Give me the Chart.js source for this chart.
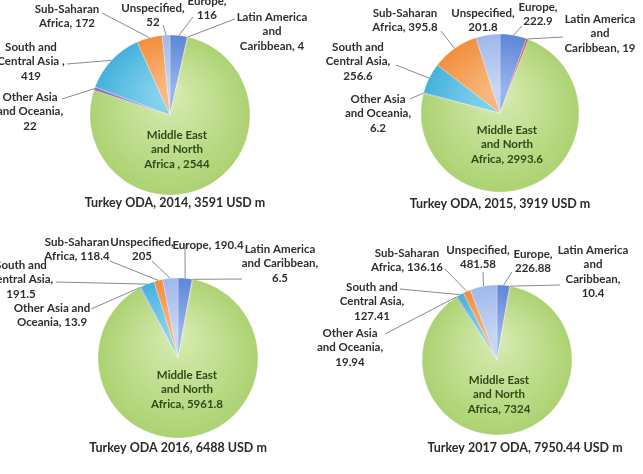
<!DOCTYPE html>
<html>
<head>
<meta charset="utf-8">
<script src="https://cdn.jsdelivr.net/npm/chart.js@4.4.1/dist/chart.umd.min.js"></script>
<style>
  body { margin: 0; background: #fff; }
  #wrap { position: relative; width: 643px; height: 474px; overflow: hidden; }
  #wrap canvas { position: absolute; left: 0; top: 0; }
</style>
</head>
<body>
<div id="wrap">
  <canvas id="c2014" width="643" height="474"></canvas>
  <canvas id="c2015" width="643" height="474"></canvas>
  <canvas id="c2016" width="643" height="474"></canvas>
  <canvas id="c2017" width="643" height="474"></canvas>
</div>
<script>
const regions = ['Europe', 'Latin America and Caribbean', 'Middle East and North Africa',
  'Other Asia and Oceania', 'South and Central Asia', 'Sub-Saharan Africa', 'Unspecified'];
const oda2014 = [116, 4, 2544, 22, 419, 172, 52];
const oda2015 = [222.9, 19, 2993.6, 6.2, 256.6, 395.8, 201.8];
const oda2016 = [190.4, 6.5, 5961.8, 13.9, 191.5, 118.4, 205];
const oda2017 = [226.88, 10.4, 7324, 19.94, 127.41, 136.16, 481.58];
const titles = ['Turkey ODA, 2014, 3591 USD m', 'Turkey ODA, 2015, 3919 USD m',
  'Turkey ODA 2016, 6488 USD m', 'Turkey 2017 ODA, 7950.44 USD m'];

// inner / outer shade for each region, excel style
const sliceColors = [
  ['#9ab6ee', '#5e86d6'],
  ['#e88a86', '#cf5b57'],
  ['#d8ecb4', '#acd272'],
  ['#b9a2d8', '#8d70b5'],
  ['#90d8f2', '#45b1dc'],
  ['#fbbc86', '#f28e3e'],
  ['#c8d8f6', '#9fb7ea']
];

// label text, label position and leader line start for every slice
const pies = [
  { id: 'c2014', data: oda2014, title: titles[0], cx: 170, cy: 115, r: 80, titleAt: [175, 203],
    labels: [
      { lines: ['Europe,', '{v}'], at: [207, 1], from: [193, 17] },
      { lines: ['Latin America', 'and', 'Caribbean, {v}'], at: [272, 17], from: [235, 19] },
      { lines: ['Middle East', 'and North', 'Africa , {v}'], at: [177, 135], inside: true },
      { lines: ['Other Asia', 'and Oceania,', '{v}'], at: [30, 97], from: [62, 99] },
      { lines: ['South and', 'Central Asia ,', '{v}'], at: [31, 47], from: [67, 64] },
      { lines: ['Sub-Saharan', 'Africa, {v}'], at: [67, 9], from: [102, 13] },
      { lines: ['Unspecified,', '{v}'], at: [153, 8], from: [163, 25] }
    ] },
  { id: 'c2015', data: oda2015, title: titles[1], cx: 500, cy: 113, r: 79, titleAt: [500, 204],
    labels: [
      { lines: ['Europe,', '{v}'], at: [538, 7], from: [522, 26] },
      { lines: ['Latin America', 'and', 'Caribbean, {v}'], at: [600, 19], from: [563, 37] },
      { lines: ['Middle East', 'and North', 'Africa, {v}'], at: [507, 130], inside: true },
      { lines: ['Other Asia', 'and Oceania,', '{v}'], at: [378, 99], from: [410, 99] },
      { lines: ['South and', 'Central Asia,', '{v}'], at: [358, 47], from: [396, 65] },
      { lines: ['Sub-Saharan', 'Africa, {v}'], at: [405, 13], from: [441, 31] },
      { lines: ['Unspecified,', '{v}'], at: [483, 13] }
    ] },
  { id: 'c2016', data: oda2016, title: titles[2], cx: 178, cy: 358, r: 80, titleAt: [178, 448],
    labels: [
      { lines: ['Europe, {v}'], at: [208, 245], from: [185, 244] },
      { lines: ['Latin America', 'and Caribbean,', '{v}'], at: [280, 249], from: [242, 279] },
      { lines: ['Middle East', 'and North', 'Africa, {v}'], at: [187, 375], inside: true },
      { lines: ['Other Asia and', 'Oceania, {v}'], at: [52, 308], from: [91, 309] },
      { lines: ['South and', 'Central Asia,', '{v}'], at: [21, 265], from: [56, 282] },
      { lines: ['Sub-Saharan', 'Africa, {v}'], at: [77, 242], from: [110, 261] },
      { lines: ['Unspecified,', '{v}'], at: [142, 242], from: [152, 261] }
    ] },
  { id: 'c2017', data: oda2017, title: titles[3], cx: 497, cy: 360, r: 75, titleAt: [525, 448],
    labels: [
      { lines: ['Europe,', '{v}'], at: [533, 254], from: [512, 272] },
      { lines: ['Latin America', 'and', 'Caribbean,', '{v}'], at: [593, 250], from: [560, 285] },
      { lines: ['Middle East', 'and North', 'Africa, {v}'], at: [499, 380], inside: true },
      { lines: ['Other Asia', 'and Oceania,', '{v}'], at: [350, 333], from: [385, 334] },
      { lines: ['South and', 'Central Asia,', '{v}'], at: [372, 287], from: [400, 289] },
      { lines: ['Sub-Saharan', 'Africa, {v}'], at: [407, 253], from: [445, 269] },
      { lines: ['Unspecified,', '{v}'], at: [478, 250], from: [483, 272] }
    ] }
];

const callouts = {
  id: 'callouts',
  afterDatasetsDraw(chart, args, opts) {
    const ctx = chart.ctx;
    const meta = chart.getDatasetMeta(0);
    const values = chart.data.datasets[0].data;
    ctx.save();
    opts.labels.forEach((lab, i) => {
      const arc = meta.data[i];
      if (lab.from) {
        const mid = (arc.startAngle + arc.endAngle) / 2;
        const ex = arc.x + Math.cos(mid) * arc.outerRadius;
        const ey = arc.y + Math.sin(mid) * arc.outerRadius;
        ctx.strokeStyle = '#8a8a8a';
        ctx.lineWidth = 1;
        ctx.beginPath();
        ctx.moveTo(lab.from[0], lab.from[1]);
        ctx.lineTo(ex, ey);
        ctx.stroke();
      }
      ctx.fillStyle = lab.inside ? '#2e4a16' : '#2f2f2f';
      ctx.font = 'bold 11.5px Lato';
      ctx.textAlign = 'center';
      ctx.textBaseline = 'middle';
      lab.lines.forEach((ln, k) => {
        ctx.fillText(ln.replace('{v}', values[i]), lab.at[0], lab.at[1] + k * 14.5);
      });
    });
    ctx.font = 'bold 12.5px Lato';
    ctx.fillStyle = '#2b2b2b';
    ctx.textAlign = 'center';
    ctx.textBaseline = 'middle';
    ctx.fillText(opts.title, opts.titleAt[0], opts.titleAt[1]);
    ctx.restore();
  }
};

pies.forEach((p) => {
  const ctx = document.getElementById(p.id).getContext('2d');
  const fills = sliceColors.map((c) => {
    const g = ctx.createRadialGradient(p.cx, p.cy - p.r * 0.3, 0, p.cx, p.cy, p.r);
    g.addColorStop(0, c[0]);
    g.addColorStop(1, c[1]);
    return g;
  });
  new Chart(ctx, {
    type: 'pie',
    data: {
      labels: regions,
      datasets: [{
        data: p.data,
        backgroundColor: fills,
        borderColor: 'rgba(255,255,255,0.5)',
        borderWidth: 0.5,
        radius: p.r,
        hoverOffset: 0
      }]
    },
    options: {
      responsive: false,
      animation: false,
      events: [],
      layout: {
        padding: { left: p.cx - p.r, top: p.cy - p.r, right: 643 - p.cx - p.r, bottom: 474 - p.cy - p.r }
      },
      plugins: {
        legend: { display: false },
        tooltip: { enabled: false },
        callouts: { labels: p.labels, title: p.title, titleAt: p.titleAt }
      }
    },
    plugins: [callouts]
  });
});
</script>
</body>
</html>
